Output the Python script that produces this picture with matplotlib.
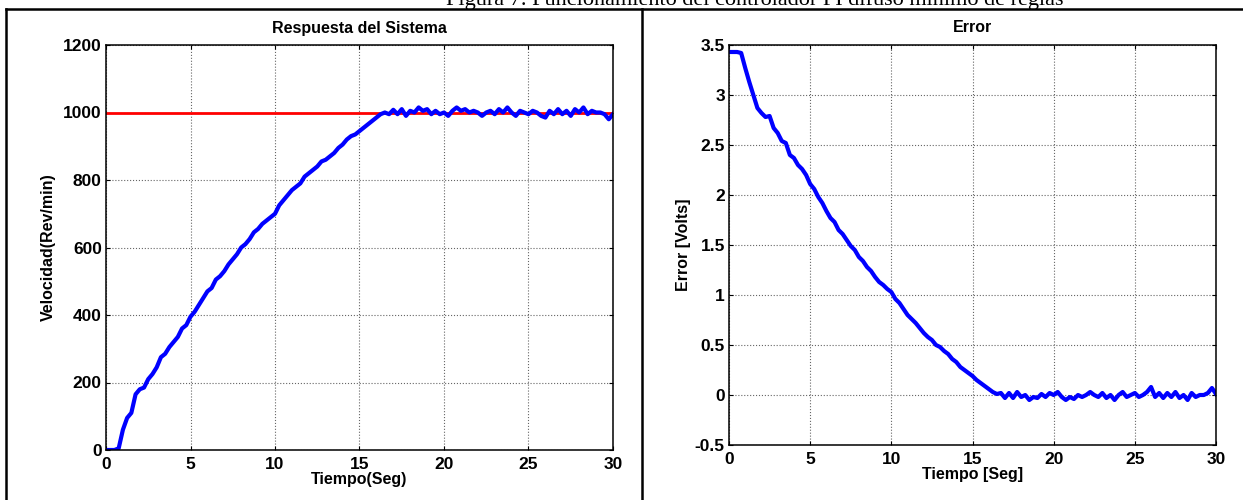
import matplotlib
matplotlib.use('Agg')
import matplotlib.pyplot as plt
from matplotlib.lines import Line2D
import numpy as np

plt.rcParams['font.family'] = ['Liberation Sans', 'DejaVu Sans']
plt.rcParams['font.weight'] = 'bold'

fig_title = 'Figura 7. Funcionamiento del controlador PI difuso mínimo de reglas'
left_title = 'Respuesta del Sistema'
right_title = 'Error'
left_xlabel = 'Tiempo(Seg)'
left_ylabel = 'Velocidad(Rev/min)'
right_xlabel = 'Tiempo [Seg]'
right_ylabel = 'Error [Volts]'

# sample times, one every 0.25 s
t = np.linspace(0, 30, 121)

referencia = [1000] * 121

# velocity
velocidad = [
    0, 0, 0, 5, 60, 95, 110, 165, 180, 185, 210, 225,
    245, 275, 285, 305, 320, 335, 360, 370, 395, 410, 430, 450,
    470, 480, 505, 515, 530, 550, 565, 580, 600, 610, 625, 645,
    655, 670, 680, 690, 700, 725, 740, 755, 770, 780, 790, 810,
    820, 830, 840, 855, 860, 870, 880, 895, 905, 920, 930, 935,
    945, 955, 965, 975, 985, 995, 1000, 995, 1008, 995, 1010, 990,
    1005, 1000, 1015, 1005, 1010, 995, 1005, 995, 1000, 990, 1005, 1015,
    1005, 1010, 1000, 1005, 1000, 990, 1000, 1005, 995, 1010, 1000, 1015,
    1000, 990, 1005, 1000, 995, 1005, 1000, 990, 985, 1005, 995, 1010,
    995, 1005, 990, 1010, 1000, 1015, 995, 1005, 1000, 1000, 995, 980,
    995,
]

# error
error = [
    3.43, 3.43, 3.43, 3.42, 3.27, 3.13, 3.00, 2.87, 2.82, 2.78, 2.79, 2.67,
    2.62, 2.54, 2.52, 2.40, 2.37, 2.30, 2.26, 2.20, 2.11, 2.06, 1.98, 1.92,
    1.84, 1.77, 1.73, 1.65, 1.61, 1.55, 1.49, 1.45, 1.38, 1.34, 1.28, 1.24,
    1.18, 1.13, 1.10, 1.06, 1.03, 0.96, 0.92, 0.86, 0.80, 0.76, 0.72, 0.67,
    0.62, 0.58, 0.55, 0.50, 0.48, 0.44, 0.41, 0.36, 0.33, 0.28, 0.25, 0.22,
    0.19, 0.15, 0.12, 0.09, 0.06, 0.03, 0.01, 0.02, -0.03, 0.02, -0.03, 0.03,
    -0.02, 0.00, -0.05, -0.02, -0.03, 0.01, -0.02, 0.02, 0.00, 0.03, -0.02, -0.05,
    -0.02, -0.04, 0.00, -0.02, 0.00, 0.03, 0.00, -0.02, 0.02, -0.03, 0.00, -0.05,
    0.00, 0.03, -0.02, 0.00, 0.02, -0.02, 0.00, 0.03, 0.08, -0.02, 0.02, -0.03,
    0.02, -0.02, 0.03, -0.03, 0.00, -0.05, 0.02, -0.02, 0.00, 0.00, 0.02, 0.07,
    0.01,
]

xticks = [0, 5, 10, 15, 20, 25, 30]
left_yticks = [0, 200, 400, 600, 800, 1000, 1200]
right_yticks = [-0.5, 0, 0.5, 1, 1.5, 2, 2.5, 3, 3.5]
right_yticklabels = ['-0.5', '0', '0.5', '1', '1.5', '2', '2.5', '3', '3.5']

W, H = 1243, 500
fig = plt.figure(figsize=(W / 100, H / 100), dpi=100)

def px(x0, y0, x1, y1):
    return [x0 / W, 1 - y1 / H, (x1 - x0) / W, (y1 - y0) / H]

def style(ax):
    ax.set_xlim(0, 30)
    ax.set_xticks(xticks)
    ax.grid(True, linestyle=':', color='#666666', linewidth=0.8)
    ax.tick_params(direction='in', top=True, right=True, length=3,
                   labelsize=12.5, width=0.8, pad=3)
    ax.tick_params(axis='x', pad=5)
    for s in ax.spines.values():
        s.set_linewidth(1.1)
    for lab in ax.get_xticklabels() + ax.get_yticklabels():
        lab.set_fontweight('bold')

ax1 = fig.add_axes(px(106, 45, 613, 450))
ax1.plot(t, referencia, color='red', linewidth=2)
ax1.plot(t, velocidad, color='blue', linewidth=3)
ax1.set_ylim(0, 1200)
ax1.set_yticks(left_yticks)
style(ax1)
ax1.set_title(left_title, fontsize=11.5, fontweight='bold', pad=9)
ax1.set_xlabel(left_xlabel, fontsize=11.5, fontweight='bold', labelpad=0)
ax1.set_ylabel(left_ylabel, fontsize=11.5, fontweight='bold', labelpad=5)

ax2 = fig.add_axes(px(729, 45, 1216, 445))
ax2.plot(t, error, color='blue', linewidth=3)
ax2.set_ylim(-0.5, 3.5)
ax2.set_yticks(right_yticks)
ax2.set_yticklabels(right_yticklabels)
style(ax2)
ax2.set_title(right_title, fontsize=11.5, fontweight='bold', pad=9)
ax2.set_xlabel(right_xlabel, fontsize=11.5, fontweight='bold', labelpad=0)
ax2.set_ylabel(right_ylabel, fontsize=11.5, fontweight='bold', labelpad=3)

# document table frame
lw = 1.8
fig.add_artist(Line2D([6 / W, 1], [1 - 9 / H, 1 - 9 / H], color='black', linewidth=lw))
fig.add_artist(Line2D([6 / W, 6 / W], [0, 1 - 9 / H], color='black', linewidth=lw))
fig.add_artist(Line2D([642 / W, 642 / W], [0, 1 - 9 / H], color='black', linewidth=lw))

fig.text(755 / W, 1 - 5 / H, fig_title, ha='center', va='baseline',
         family=['Liberation Serif', 'DejaVu Serif'], fontweight='normal', fontsize=16)

fig.savefig('out.png', dpi=100)
